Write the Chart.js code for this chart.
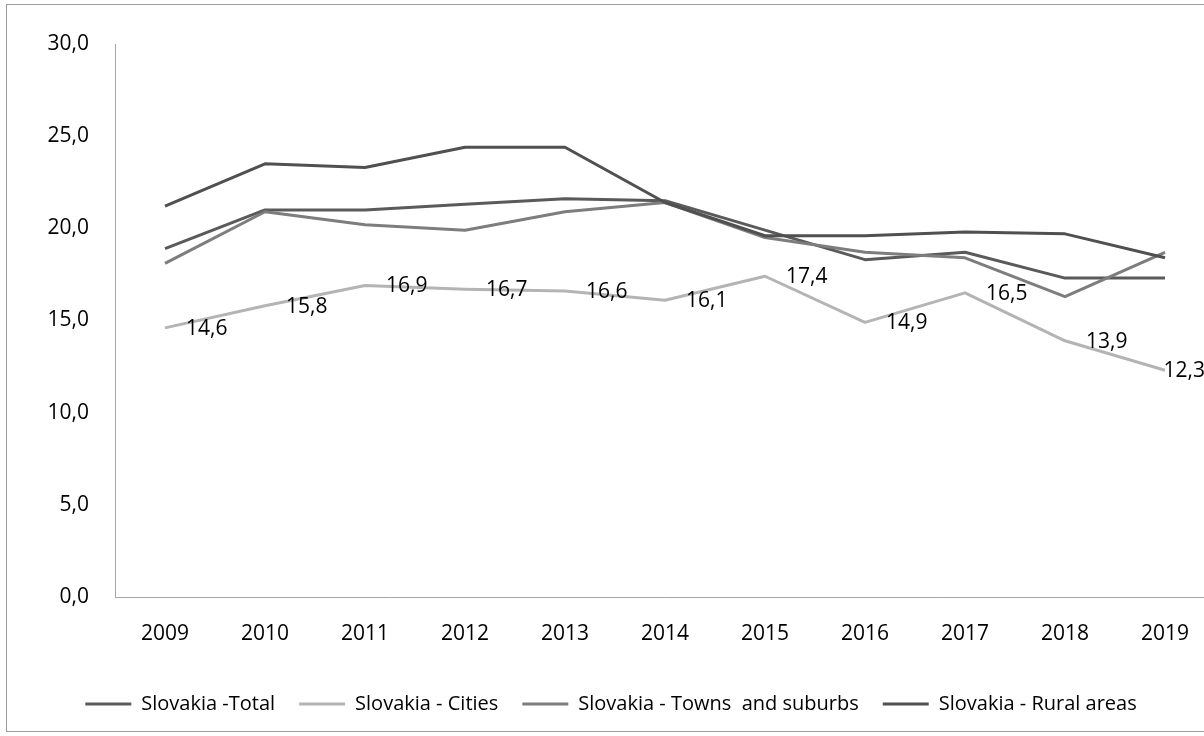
<!DOCTYPE html>
<html lang="en">
<head>
  <meta charset="UTF-8" />
  <title>Slovakia - share by degree of urbanisation</title>
  <script src="https://cdn.jsdelivr.net/npm/chart.js"></script>
  <style>
    html, body {
      margin: 0;
      padding: 0;
      background: #fff;
      overflow: hidden;
    }
    .frame {
      position: absolute;
      left: 6px;
      top: 4px;
      width: 1238px;
      height: 726px;
      border: 1px solid #9a9a9a;
      background: #fff;
    }
    canvas {
      display: block;
    }
  </style>
</head>
<body>
  <div class="frame"><canvas id="urbChart" width="1238" height="726"></canvas></div>

  <script>
    const years = ['2009', '2010', '2011', '2012', '2013', '2014', '2015', '2016', '2017', '2018', '2019'];

    const total  = [18.9, 21.0, 21.0, 21.3, 21.6, 21.5, 19.9, 18.3, 18.7, 17.3, 17.3];
    const cities = [14.6, 15.8, 16.9, 16.7, 16.6, 16.1, 17.4, 14.9, 16.5, 13.9, 12.3];
    const towns  = [18.1, 20.9, 20.2, 19.9, 20.9, 21.4, 19.5, 18.7, 18.4, 16.3, 18.7];
    const rural  = [21.2, 23.5, 23.3, 24.4, 24.4, 21.4, 19.6, 19.6, 19.8, 19.7, 18.4];

    const FONT = "'Open Sans', sans-serif";
    const fmt = v => v.toFixed(1).replace('.', ',');

    // value labels for the Cities series, to the right of each point,
    // pulled back inside the plot when they would run past its right edge
    const cityLabels = {
      id: 'cityLabels',
      afterDatasetsDraw(chart) {
        const meta = chart.getDatasetMeta(1);
        const ctx = chart.ctx;
        const maxRight = chart.chartArea.right - 10;
        ctx.save();
        ctx.font = '21px ' + FONT;
        ctx.fillStyle = '#000';
        ctx.textAlign = 'left';
        ctx.textBaseline = 'middle';
        meta.data.forEach((pt, i) => {
          const txt = fmt(cities[i]);
          const w = ctx.measureText(txt).width;
          let x = pt.x + 21;
          if (x + w > maxRight) x = maxRight - w;
          ctx.fillText(txt, x, pt.y + 1);
        });
        ctx.restore();
      }
    };

    function series(label, data, color, order) {
      return {
        label,
        data,
        borderColor: color,
        backgroundColor: color,
        borderWidth: 3,
        borderJoinStyle: 'round',
        pointRadius: 0,
        tension: 0,
        fill: false,
        order
      };
    }

    new Chart(document.getElementById('urbChart'), {
      type: 'line',
      data: {
        labels: years,
        datasets: [
          series('Slovakia -Total', total, '#5a5a5a', 3),
          series('Slovakia - Cities', cities, '#b4b4b4', 2),
          series('Slovakia - Towns  and suburbs', towns, '#7d7d7d', 1),
          series('Slovakia - Rural areas', rural, '#505050', 0)
        ]
      },
      options: {
        responsive: false,
        animation: false,
        layout: {
          padding: { left: 0, right: 30, top: 39, bottom: 7 }
        },
        plugins: {
          title: { display: false },
          tooltip: { enabled: false },
          legend: {
            position: 'bottom',
            align: 'center',
            labels: {
              boxWidth: 46,
              boxHeight: 3,
              padding: 24,
              color: '#000',
              font: { family: FONT, size: 20 },
              generateLabels(chart) {
                return chart.data.datasets.map((ds, i) => ({
                  text: ds.label,
                  fillStyle: ds.borderColor,
                  strokeStyle: ds.borderColor,
                  lineWidth: 0,
                  fontColor: '#000',
                  datasetIndex: i
                }));
              }
            }
          }
        },
        scales: {
          x: {
            offset: true,
            grid: { display: false, drawTicks: false },
            border: { display: true, color: '#a6a6a6', width: 1 },
            ticks: {
              color: '#000',
              padding: 24,
              maxRotation: 0,
              font: { family: FONT, size: 21 }
            },
            afterFit(scale) { scale.height = 73; }
          },
          y: {
            min: 0,
            max: 30,
            grid: { display: false, drawTicks: false },
            border: { display: true, color: '#a6a6a6', width: 1 },
            ticks: {
              stepSize: 5,
              color: '#000',
              padding: 26,
              font: { family: FONT, size: 21 },
              callback: v => fmt(v)
            },
            afterFit(scale) { scale.width = 108; }
          }
        }
      },
      plugins: [cityLabels]
    });
  </script>
</body>
</html>
